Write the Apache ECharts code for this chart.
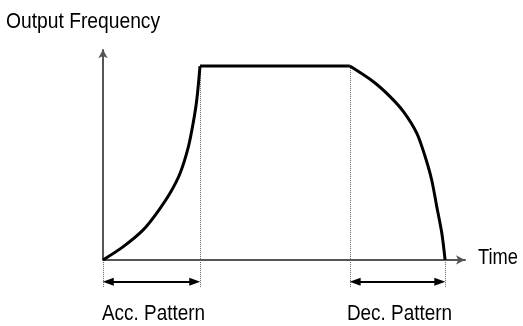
<!DOCTYPE html>
<html><head><meta charset="utf-8">
<script src="https://cdn.jsdelivr.net/npm/echarts@6/dist/echarts.min.js"></script>
<style>html,body{margin:0;padding:0;background:#fff}#c{width:523px;height:326px}</style>
</head><body><div id="c"></div>
<script>
// Acceleration ramp (time, output frequency)
const accTime = [0, 5.6, 11.1, 14.8, 18.5, 21.3, 23.6, 24.9, 25.9, 26.8];
const accFreq = [0, 6.2, 14.0, 21.7, 31.0, 40.3, 52.7, 63.6, 74.4, 90.2];
// Constant speed
const holdTime = [26.8, 68.2];
const holdFreq = [90.2, 90.2];
// Deceleration ramp
const decTime = [68.2, 74.7, 79.3, 83.0, 86.7, 89.0, 90.8, 92.2, 93.6, 94.5];
const decFreq = [90.2, 82.9, 76.0, 69.0, 58.9, 48.0, 37.2, 24.8, 12.4, 0];
// Phase annotations
const phaseNames = ['Acc. Pattern', 'Dec. Pattern'];
const phaseStart = [accTime[0], decTime[0]];
const phaseEnd = [accTime[accTime.length - 1], decTime[decTime.length - 1]];
const axisNames = ['Time', 'Output Frequency'];

const chart = echarts.init(document.getElementById('c'), null, {renderer: 'canvas'});

const ARROW_Y = -10.2, DOT_BOTTOM = -13;
const HEAD_INSET = 1.45; // keeps arrow tips on the dotted guides (head is centred on the end point)
const boundaries = [
  [accTime[0], accFreq[0]],
  [accTime[accTime.length - 1], accFreq[accFreq.length - 1]],
  [decTime[0], decFreq[0]],
  [decTime[decTime.length - 1], decFreq[decFreq.length - 1]]
];

const curveStyle = {color: '#000', width: 3};
const zipPts = (xs, ys) => xs.map((x, i) => [x, ys[i]]);

chart.setOption({
  animation: false,
  grid: {left: 103, right: 58, top: 45, bottom: 36},
  xAxis: {
    type: 'value', min: 0, max: 100,
    axisLine: {onZero: true, symbol: ['none', 'arrow'], symbolSize: [7, 9],
      lineStyle: {color: '#555', width: 2}},
    axisTick: {show: false}, axisLabel: {show: false}, splitLine: {show: false}
  },
  yAxis: {
    type: 'value', min: -14, max: 100,
    axisLine: {show: false}, axisTick: {show: false}, axisLabel: {show: false}, splitLine: {show: false}
  },
  series: [
    {
      type: 'line', data: [], z: 1, silent: true,
      markLine: {
        silent: true, animation: false, symbol: 'none', label: {show: false},
        lineStyle: {color: '#666', width: 1, type: [1, 1]},
        data: boundaries.map(b => [{coord: [b[0], b[1]]}, {coord: [b[0], DOT_BOTTOM]}])
      }
    },
    {
      type: 'line', data: [], z: 3, silent: true,
      markLine: {
        silent: true, animation: false, label: {show: false},
        data: [
          [{coord: [0, 0], symbol: 'none'},
           {coord: [0, 98], symbol: 'arrow', symbolSize: [7, 9], lineStyle: {color: '#555', width: 2}}]
        ].concat(phaseNames.map((n, i) => [
          {coord: [phaseStart[i] + HEAD_INSET, ARROW_Y], symbol: 'triangle', symbolSize: [8, 11]},
          {coord: [phaseEnd[i] - HEAD_INSET, ARROW_Y], symbol: 'triangle', symbolSize: [8, 11],
            lineStyle: {color: '#000', width: 2}}
        ])),
        lineStyle: {color: '#000', width: 2, type: 'solid'}
      }
    },
    {type: 'line', data: zipPts(accTime, accFreq), smooth: 0.3, showSymbol: false, symbol: 'none', lineStyle: curveStyle, z: 5},
    {type: 'line', data: zipPts(holdTime, holdFreq), showSymbol: false, symbol: 'none', lineStyle: curveStyle, z: 5},
    {type: 'line', data: zipPts(decTime, decFreq), smooth: 0.3, showSymbol: false, symbol: 'none', lineStyle: curveStyle, z: 5}
  ]
});

const font = {fontFamily: '"Liberation Sans", Arial, sans-serif', fontSize: 22, fill: '#000'};
const SX = 0.86;
const g = [];
phaseNames.forEach((n, i) => {
  const p = chart.convertToPixel({xAxisIndex: 0, yAxisIndex: 0}, [(phaseStart[i] + phaseEnd[i]) / 2, 0]);
  g.push({type: 'text', x: p[0] + 2, y: 313.5, scaleX: SX,
    style: Object.assign({text: n, align: 'center', verticalAlign: 'middle'}, font)});
});
g.push({type: 'text', x: 478, y: 257.5, scaleX: 0.83,
  style: Object.assign({text: axisNames[0], align: 'left', verticalAlign: 'middle'}, font)});
g.push({type: 'text', x: 6, y: 22, scaleX: 0.875,
  style: Object.assign({text: axisNames[1], align: 'left', verticalAlign: 'middle'}, font)});
chart.setOption({graphic: g});
</script>
</body></html>
